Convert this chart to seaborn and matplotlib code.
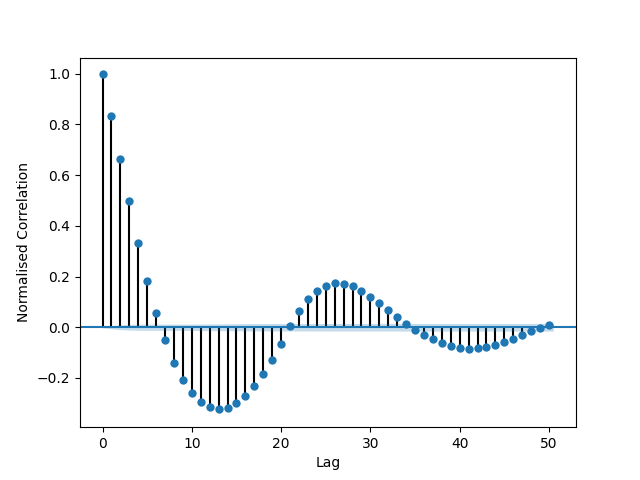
import numpy as np
import pandas as pd
import matplotlib
matplotlib.use("Agg")
import matplotlib.pyplot as plt
import seaborn as sns

lags = list(range(51))
acf_values = [1.0, 0.831, 0.665, 0.496, 0.331, 0.181, 0.055, -0.051, -0.142, -0.209,
              -0.260, -0.295, -0.315, -0.323, -0.319, -0.299, -0.272, -0.232, -0.185, -0.130,
              -0.067, 0.004, 0.063, 0.110, 0.142, 0.161, 0.173, 0.169, 0.161, 0.142,
              0.118, 0.094, 0.067, 0.039, 0.012, -0.012, -0.031, -0.047, -0.063, -0.075,
              -0.083, -0.087, -0.083, -0.079, -0.071, -0.059, -0.047, -0.031, -0.016, -0.004,
              0.008]
n_obs = 100000
x_label = "Lag"
y_label = "Normalised Correlation"

df = pd.DataFrame({"lag": lags, "acf": acf_values})

# Bartlett confidence band
r = np.array(acf_values)
var = np.ones_like(r) / n_obs
var[0] = 0
var[2:] = (1 + 2 * np.cumsum(r[1:-1] ** 2)) / n_obs
half = 1.96 * np.sqrt(var)
band_x = np.array(lags, dtype=float)
band_x[0] -= 0.5
band_x[-1] += 0.5

fig, ax = plt.subplots(figsize=(6.4, 4.8), dpi=100)
ax.vlines(df["lag"], 0, df["acf"], colors="black", linewidth=1.5, zorder=1)
ax.axhline(0, color="C0", linewidth=1.5, zorder=2)
ax.fill_between(band_x, -half, half, alpha=0.25, color="C0", linewidth=0)
sns.scatterplot(data=df, x="lag", y="acf", ax=ax, color="C0", s=36, linewidth=0, zorder=3)
ax.set_xlim(-2.525, 53.025)
ax.set_ylim(-0.394, 1.063)
ax.set_xlabel(x_label)
ax.set_ylabel(y_label)
fig.savefig("out.png", dpi=100)
